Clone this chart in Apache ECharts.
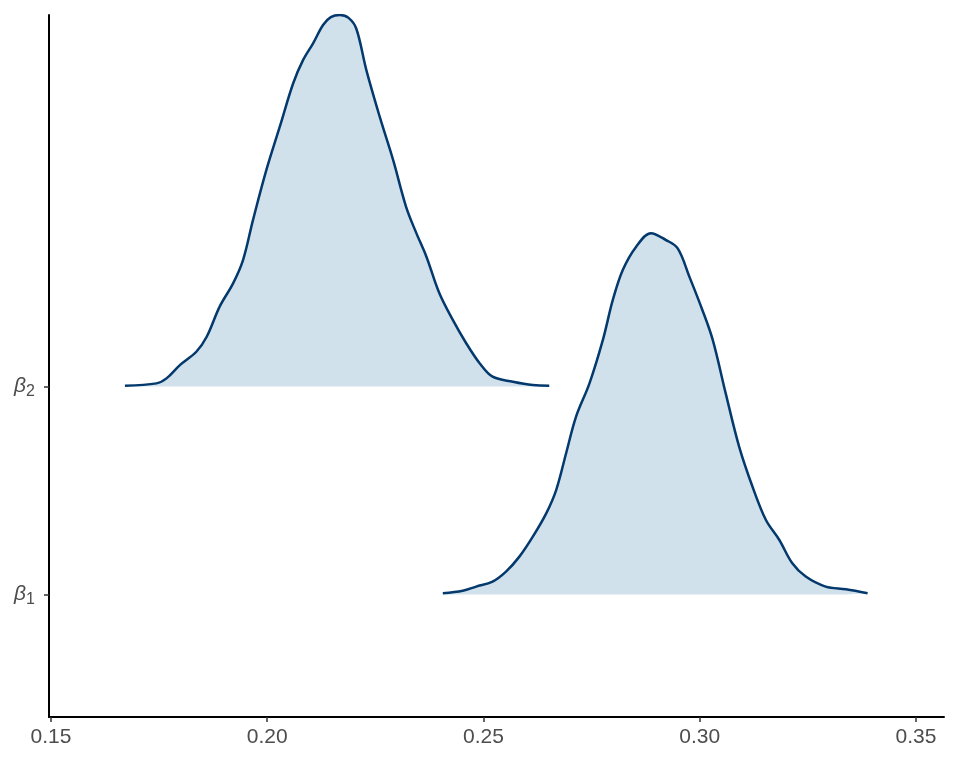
<!DOCTYPE html>
<html>
<head>
<meta charset="utf-8">
<script src="https://cdn.jsdelivr.net/npm/echarts@6/dist/echarts.min.js"></script>
<style>html,body{margin:0;padding:0;background:#fff}#c{width:960px;height:768px}</style>
</head>
<body>
<div id="c"></div>
<script>
// Parameter names (greek letter + subscript) and their row positions
const paramSymbols = ['β', 'β'];
const paramSubscripts = ['1', '2'];
const paramRows = [1, 2];

// x tick values
const xTicks = [0.15, 0.20, 0.25, 0.30, 0.35];

// Density curve for beta_1: x positions and heights (in row units)
const beta1X = [0.2406,0.2452,0.2483,0.2521,0.2552,0.2583,0.2614,0.2645,0.2668,0.2691,0.2714,0.2745,0.2776,0.2799,0.2822,0.2853,0.2887,0.2922,0.2949,0.2976,0.3006,0.3030,0.3060,0.3091,0.3122,0.3153,0.3184,0.3214,0.3245,0.3291,0.3338,0.3388];
const beta1H = [0.006,0.018,0.038,0.062,0.110,0.182,0.278,0.390,0.502,0.679,0.855,1.015,1.224,1.416,1.560,1.672,1.737,1.704,1.664,1.528,1.368,1.224,0.967,0.711,0.518,0.358,0.262,0.150,0.086,0.038,0.025,0.006];

// Density curve for beta_2
const beta2X = [0.1671,0.1744,0.1767,0.1798,0.1836,0.1860,0.1890,0.1921,0.1944,0.1967,0.1998,0.2029,0.2060,0.2083,0.2106,0.2129,0.2147,0.2168,0.2188,0.2206,0.2229,0.2260,0.2291,0.2321,0.2345,0.2368,0.2398,0.2429,0.2460,0.2491,0.2521,0.2568,0.2614,0.2652];
const beta2H = [0.004,0.015,0.039,0.103,0.167,0.239,0.384,0.496,0.608,0.800,1.041,1.249,1.458,1.570,1.650,1.738,1.776,1.786,1.772,1.720,1.522,1.297,1.089,0.864,0.736,0.624,0.448,0.320,0.208,0.112,0.047,0.023,0.007,0.004];

const curves = [
  {x: beta1X, h: beta1H, row: paramRows[0]},
  {x: beta2X, h: beta2H, row: paramRows[1]}
];

const chart = echarts.init(document.getElementById('c'), null, {renderer: 'canvas'});

const series = curves.map(c => ({
  type: 'line',
  data: c.x.map((x, i) => [x, c.row + c.h[i]]),
  smooth: 0.35,
  showSymbol: false,
  symbol: 'none',
  lineStyle: {color: '#03396c', width: 2.5},
  areaStyle: {color: '#d1e1ec', opacity: 1, origin: c.row},
  silent: true,
  z: 2
}));

const font = 'Liberation Sans, Arial, sans-serif';

chart.setOption({
  animation: false,
  backgroundColor: '#ffffff',
  grid: {left: 49, right: 16, top: 15, bottom: 51, containLabel: false},
  xAxis: {
    type: 'value',
    min: 0.14954,
    max: 0.35647,
    axisLine: {show: true, onZero: false, lineStyle: {color: '#000', width: 2}},
    axisTick: {show: true, length: 5, lineStyle: {color: '#333', width: 1.5}, customValues: xTicks},
    axisLabel: {
      customValues: xTicks,
      formatter: v => v.toFixed(2),
      color: '#4d4d4d', fontSize: 21, fontFamily: font, margin: 10
    },
    splitLine: {show: false}
  },
  yAxis: {
    type: 'value',
    min: 0.411,
    max: 3.786,
    axisLine: {show: true, onZero: false, lineStyle: {color: '#000', width: 2}},
    axisTick: {show: true, length: 5, lineStyle: {color: '#333', width: 1.5}, customValues: paramRows},
    axisLabel: {
      customValues: paramRows,
      formatter: v => {
        const i = paramRows.indexOf(v);
        return '{b|' + paramSymbols[i] + '}{s|' + paramSubscripts[i] + '}';
      },
      margin: 14,
      rich: {
        b: {fontStyle: 'italic', fontSize: 21, color: '#4d4d4d', fontFamily: font},
        s: {fontSize: 16, color: '#4d4d4d', fontFamily: font, padding: [10, 0, 0, 0]}
      }
    },
    splitLine: {show: false}
  },
  series: series
});
</script>
</body>
</html>
